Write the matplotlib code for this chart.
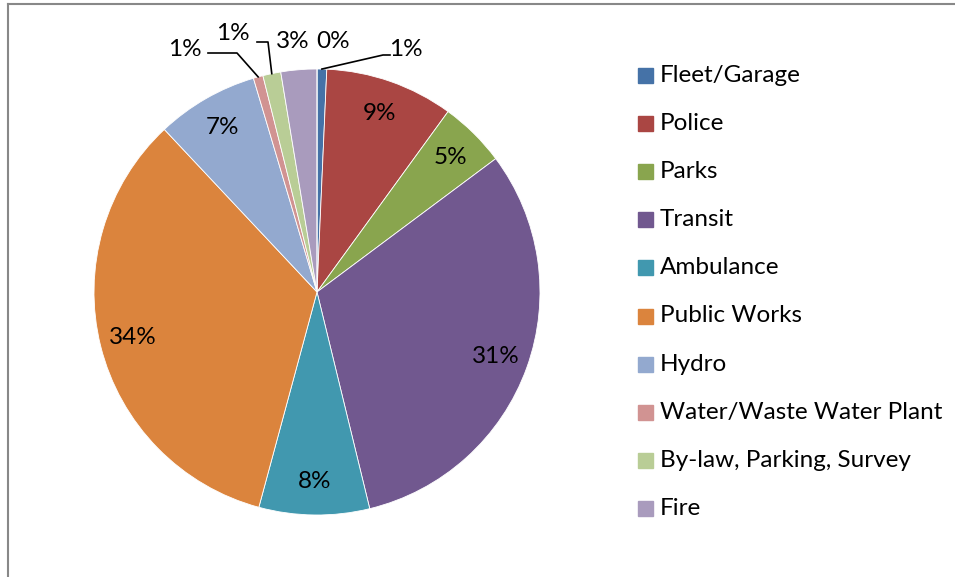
import matplotlib.pyplot as plt
import numpy as np
from matplotlib.patches import Rectangle

categories = ["Fleet/Garage", "Police", "Parks", "Transit", "Ambulance",
              "Public Works", "Hydro", "Water/Waste Water Plant",
              "By-law, Parking, Survey", "Fire", ""]
values = [0.7, 9.3, 4.8, 31.4, 8.0, 33.8, 7.4, 0.7, 1.3, 2.6, 0.0]
colors = ["#4572A7", "#AA4643", "#89A54E", "#71588F", "#4198AF",
          "#DB843D", "#93A9CF", "#D19392", "#B9CD96", "#A99BBD", "#ffffff"]

W, H = 955, 577
CX, CY, R = 317, H - 292, 223


def main():
    plt.rcParams["font.family"] = ["Lato", "DejaVu Sans"]
    fig = plt.figure(figsize=(W / 100, H / 100), dpi=100)
    ax = fig.add_axes([0, 0, 1, 1])

    ax.pie(values, colors=colors, startangle=90,
           counterclock=False, center=(CX, CY), radius=R,
           wedgeprops=dict(edgecolor="white", linewidth=0.6),
           frame=True)
    ax.set_xlim(0, W)
    ax.set_ylim(0, H)
    ax.axis("off")

    total = sum(values)
    labels = ["%d%%" % round(v / total * 100) for v in values]
    fs = 17.5

    # inside labels for the big slices
    start = 90.0
    for i, v in enumerate(values):
        sweep = v / total * 360
        mid = np.radians(start - sweep / 2)
        start -= sweep
        if v >= 4:
            ax.text(CX + 0.85 * R * np.cos(mid), CY + 0.85 * R * np.sin(mid),
                    labels[i], ha="center", va="center", fontsize=fs)

    # small slices: labels outside, some with leader lines
    def edge(i):
        a = np.radians(90 - (sum(values[:i]) + values[i] / 2) / total * 360)
        return CX + R * np.cos(a), CY + R * np.sin(a)

    outside = {0: (406, H - 50, [(383, H - 55), (390, H - 55)]),
               7: (185, H - 49, [(237, H - 53), (208, H - 53)]),
               8: (233, H - 34, [(268, H - 42), (257, H - 42)]),
               9: (293, H - 42, None),
               10: (333, H - 42, None)}
    for i, (tx, ty, pts) in outside.items():
        ax.text(tx, ty, labels[i], ha="center", va="center", fontsize=fs)
        if pts:
            ex, ey = edge(i)
            xs = [ex] + [p[0] for p in pts]
            ys = [ey] + [p[1] for p in pts]
            ax.plot(xs, ys, color="black", linewidth=1.2)

    # legend
    for k, name in enumerate(categories[:10]):
        y = H - (75 + k * 48.2)
        ax.add_patch(Rectangle((638, y - 7.5), 15, 15, color=colors[k]))
        ax.text(660, y, name, ha="left", va="center", fontsize=fs)

    # chart border
    ax.plot([8, W], [H - 4, H - 4], color="#888888", linewidth=1.5,
            clip_on=False)
    ax.plot([8, 8], [0, H - 4], color="#888888", linewidth=1.5,
            clip_on=False)

    fig.savefig("out.png", dpi=100)


if __name__ == "__main__":
    main()
